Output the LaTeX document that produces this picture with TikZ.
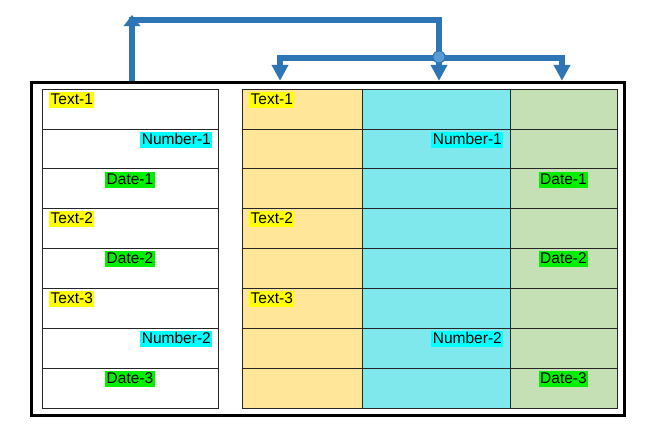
\documentclass[tikz,border=0pt]{standalone}
\usepackage{fontspec}
\setmainfont{Liberation Sans}
\usetikzlibrary{positioning,arrows.meta}

\definecolor{linkblue}{RGB}{46,117,182}
\definecolor{hubblue}{RGB}{91,155,213}
\definecolor{colorange}{RGB}{255,230,153}
\definecolor{colcyan}{RGB}{127,232,236}
\definecolor{colgreen}{RGB}{197,224,180}
\definecolor{hlyellow}{RGB}{255,255,0}
\definecolor{hlcyan}{RGB}{0,255,255}
\definecolor{hlgreen}{RGB}{0,240,0}

\tikzset{
  cell/.style={draw=black!85,line width=0.8pt,minimum height=39.9pt,inner sep=0pt,outer sep=0pt},
  cellL/.style={cell,minimum width=176pt},
  cellA/.style={cell,minimum width=120pt,fill=colorange},
  cellB/.style={cell,minimum width=148pt,fill=colcyan},
  cellC/.style={cell,minimum width=107pt,fill=colgreen},
  tag/.style={font=\fontsize{15.5}{16}\selectfont,inner xsep=1.5pt,inner ysep=1pt,text height=11.5pt,text depth=2.5pt},
  txt/.style={tag,fill=hlyellow},
  num/.style={tag,fill=hlcyan},
  dat/.style={tag,fill=hlgreen},
  link/.style={linkblue,line width=5.5pt,line cap=rect},
  flow/.style={linkblue,line width=5.5pt,-{Triangle[width=16pt,length=16pt]}},
  hub/.style={circle,fill=hubblue,draw=linkblue,line width=1pt,minimum size=12pt,inner sep=0pt}
}

\begin{document}
\begin{tikzpicture}[x=1pt,y=-1pt]
\fill[white] (0,0) rectangle (660,440);
\useasboundingbox (0,0) rectangle (660,440);

% outer frame
\node[draw,line width=3pt,minimum width=593pt,minimum height=333pt] (frame) at (327.7,248.8) {};

% left table
\node[cellL] (l1) at (130,108.95) {};
\node[cellL,below=0pt of l1] (l2) {};
\node[cellL,below=0pt of l2] (l3) {};
\node[cellL,below=0pt of l3] (l4) {};
\node[cellL,below=0pt of l4] (l5) {};
\node[cellL,below=0pt of l5] (l6) {};
\node[cellL,below=0pt of l6] (l7) {};
\node[cellL,below=0pt of l7] (l8) {};

% right table
\node[cellA,right=24pt of l1] (a1) {};
\node[cellA,below=0pt of a1] (a2) {};
\node[cellA,below=0pt of a2] (a3) {};
\node[cellA,below=0pt of a3] (a4) {};
\node[cellA,below=0pt of a4] (a5) {};
\node[cellA,below=0pt of a5] (a6) {};
\node[cellA,below=0pt of a6] (a7) {};
\node[cellA,below=0pt of a7] (a8) {};
\node[cellB,right=0pt of a1] (b1) {};
\node[cellB,below=0pt of b1] (b2) {};
\node[cellB,below=0pt of b2] (b3) {};
\node[cellB,below=0pt of b3] (b4) {};
\node[cellB,below=0pt of b4] (b5) {};
\node[cellB,below=0pt of b5] (b6) {};
\node[cellB,below=0pt of b6] (b7) {};
\node[cellB,below=0pt of b7] (b8) {};
\node[cellC,right=0pt of b1] (c1) {};
\node[cellC,below=0pt of c1] (c2) {};
\node[cellC,below=0pt of c2] (c3) {};
\node[cellC,below=0pt of c3] (c4) {};
\node[cellC,below=0pt of c4] (c5) {};
\node[cellC,below=0pt of c5] (c6) {};
\node[cellC,below=0pt of c6] (c7) {};
\node[cellC,below=0pt of c7] (c8) {};

% labels
\node[txt,anchor=north west] (lt1) at ([xshift=7pt,yshift=-2.5pt]l1.north west) {Text-1};
\node[num,anchor=north east] (ln1) at ([xshift=-5.5pt,yshift=-2.5pt]l2.north east) {Number-1};
\node[dat,anchor=north] (ld1) at ([yshift=-2.5pt]l3.north) {Date-1};
\node[txt,anchor=north west] (lt2) at ([xshift=7pt,yshift=-2.5pt]l4.north west) {Text-2};
\node[dat,anchor=north] (ld2) at ([yshift=-2.5pt]l5.north) {Date-2};
\node[txt,anchor=north west] (lt3) at ([xshift=7pt,yshift=-2.5pt]l6.north west) {Text-3};
\node[num,anchor=north east] (ln2) at ([xshift=-5.5pt,yshift=-2.5pt]l7.north east) {Number-2};
\node[dat,anchor=north] (ld3) at ([yshift=-2.5pt]l8.north) {Date-3};

\node[txt,anchor=north west] (at1) at ([xshift=7pt,yshift=-2.5pt]a1.north west) {Text-1};
\node[txt,anchor=north west] (at2) at ([xshift=7pt,yshift=-2.5pt]a4.north west) {Text-2};
\node[txt,anchor=north west] (at3) at ([xshift=7pt,yshift=-2.5pt]a6.north west) {Text-3};
\node[num,anchor=north east] (bn1) at ([xshift=-6.5pt,yshift=-2.5pt]b2.north east) {Number-1};
\node[num,anchor=north east] (bn2) at ([xshift=-6.5pt,yshift=-2.5pt]b7.north east) {Number-2};
\node[dat,anchor=north] (cd1) at ([yshift=-2.5pt]c3.north) {Date-1};
\node[dat,anchor=north] (cd2) at ([yshift=-2.5pt]c5.north) {Date-2};
\node[dat,anchor=north] (cd3) at ([yshift=-2.5pt]c8.north) {Date-3};

% connectors
\coordinate (rise) at (132,15);
\coordinate (bend) at (439,20);
\coordinate (fork) at (439,57);
\coordinate (barL) at (280,58);
\coordinate (barR) at (562,58);

\draw[flow,-{Triangle[width=16pt,length=11pt]}] (rise |- frame.north) -- (rise);
\draw[link] (rise |- bend) -- (bend) -- (fork);
\draw[link] (barL) -- (barR);
\draw[flow] (barL) -- (barL |- frame.north);
\draw[flow] (fork) -- (fork |- frame.north);
\draw[flow] (barR) -- (barR |- frame.north);
\node[hub] (hub) at (fork) {};

\end{tikzpicture}
\end{document}
